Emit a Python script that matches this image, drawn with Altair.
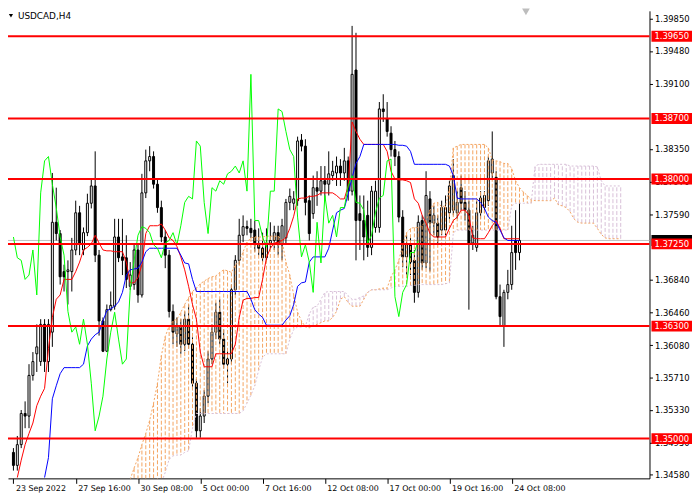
import altair as alt
import pandas as pd

SYMBOL = "USDCAD,H4"

# H4 candles (bar 0 = 23 Sep 2022 00:00)
BAR_OPEN = [
    1.3484, 1.3469, 1.3493, 1.3529, 1.3526, 1.3573, 1.3598, 1.3589, 1.3632, 1.3589,
    1.3623, 1.3750, 1.3737, 1.3693, 1.3693, 1.3693, 1.3718, 1.3761, 1.3718, 1.3738,
    1.3772, 1.3792, 1.3712, 1.3636, 1.3601, 1.3649, 1.3653, 1.3733, 1.3710, 1.3709,
    1.3676, 1.3678, 1.3718, 1.3666, 1.3784, 1.3821, 1.3826, 1.3794, 1.3767, 1.3733,
    1.3712, 1.3647, 1.3621, 1.3629, 1.3609, 1.3638, 1.3609, 1.3564, 1.3509, 1.3526,
    1.3549, 1.3592, 1.3623, 1.3646, 1.3615, 1.3586, 1.3592, 1.3672, 1.3706, 1.3735,
    1.3745, 1.3743, 1.3741, 1.3724, 1.3720, 1.3709, 1.3726, 1.3729, 1.3738, 1.3724,
    1.3732, 1.3773, 1.3772, 1.3775, 1.3845, 1.3838, 1.3775, 1.3760, 1.3790, 1.3786,
    1.3798, 1.3794, 1.3804, 1.3807, 1.3815, 1.3807, 1.3821, 1.3786, 1.3926, 1.3760,
    1.3752, 1.3758, 1.3721, 1.3744, 1.3744, 1.3881, 1.3870, 1.3853, 1.3834, 1.3826,
    1.3756, 1.3710, 1.3724, 1.3706, 1.3669, 1.3752, 1.3703, 1.3777, 1.3749, 1.3749,
    1.3741, 1.3741, 1.3761, 1.3764, 1.3761, 1.3790, 1.3773, 1.3764, 1.3726, 1.3721,
    1.3761, 1.3767, 1.3775, 1.3807, 1.3802, 1.3664, 1.3630, 1.3669, 1.3678, 1.3729,
    1.3715,
]
BAR_HIGH = [
    1.3489, 1.3503, 1.3533, 1.3543, 1.3586, 1.3600, 1.3632, 1.3638, 1.3638, 1.3638,
    1.3807, 1.3790, 1.3741, 1.3701, 1.3706, 1.3732, 1.3775, 1.3769, 1.3744, 1.3783,
    1.3800, 1.3832, 1.3718, 1.3640, 1.3655, 1.3670, 1.3754, 1.3754, 1.3754, 1.3735,
    1.3704, 1.3724, 1.3726, 1.3806, 1.3834, 1.3838, 1.3832, 1.3800, 1.3775, 1.3741,
    1.3718, 1.3655, 1.3640, 1.3638, 1.3647, 1.3655, 1.3617, 1.3569, 1.3535, 1.3556,
    1.3601, 1.3632, 1.3657, 1.3661, 1.3626, 1.3601, 1.3678, 1.3712, 1.3754, 1.3758,
    1.3752, 1.3754, 1.3752, 1.3743, 1.3738, 1.3743, 1.3750, 1.3746, 1.3746, 1.3754,
    1.3777, 1.3789, 1.3786, 1.3849, 1.3852, 1.3846, 1.3781, 1.3804, 1.3809, 1.3815,
    1.3815, 1.3832, 1.3821, 1.3826, 1.3823, 1.3836, 1.3826, 1.3977, 1.3969, 1.3781,
    1.3781, 1.3775, 1.3792, 1.3798, 1.3889, 1.3898, 1.3889, 1.3861, 1.3844, 1.3832,
    1.3764, 1.3735, 1.3732, 1.3718, 1.3758, 1.3758, 1.3809, 1.3786, 1.3769, 1.3758,
    1.3775, 1.3781, 1.3798, 1.3823, 1.3786, 1.3804, 1.3786, 1.3775, 1.3746, 1.3775,
    1.3786, 1.3786, 1.3826, 1.3855, 1.3809, 1.3678, 1.3672, 1.3695, 1.3746, 1.3764,
    1.3775,
]
BAR_LOW = [
    1.3463, 1.3463, 1.3489, 1.3512, 1.3512, 1.3567, 1.3577, 1.3584, 1.3577, 1.3577,
    1.3606, 1.3729, 1.3678, 1.3670, 1.3655, 1.3670, 1.3712, 1.3712, 1.3712, 1.3734,
    1.3766, 1.3704, 1.3619, 1.3600, 1.3600, 1.3647, 1.3649, 1.3704, 1.3689, 1.3674,
    1.3672, 1.3672, 1.3657, 1.3663, 1.3778, 1.3809, 1.3789, 1.3761, 1.3727, 1.3697,
    1.3640, 1.3609, 1.3606, 1.3598, 1.3601, 1.3604, 1.3556, 1.3501, 1.3501, 1.3518,
    1.3541, 1.3586, 1.3615, 1.3609, 1.3581, 1.3564, 1.3586, 1.3666, 1.3701, 1.3727,
    1.3735, 1.3732, 1.3716, 1.3712, 1.3704, 1.3704, 1.3720, 1.3718, 1.3712, 1.3706,
    1.3724, 1.3764, 1.3764, 1.3769, 1.3832, 1.3758, 1.3729, 1.3754, 1.3769, 1.3781,
    1.3775, 1.3781, 1.3798, 1.3792, 1.3792, 1.3798, 1.3775, 1.3781, 1.3706, 1.3718,
    1.3706, 1.3710, 1.3712, 1.3738, 1.3738, 1.3866, 1.3849, 1.3826, 1.3815, 1.3750,
    1.3698, 1.3689, 1.3689, 1.3657, 1.3663, 1.3695, 1.3697, 1.3693, 1.3735, 1.3724,
    1.3735, 1.3735, 1.3754, 1.3758, 1.3754, 1.3764, 1.3752, 1.3649, 1.3718, 1.3716,
    1.3754, 1.3761, 1.3769, 1.3800, 1.3661, 1.3629, 1.3606, 1.3661, 1.3672, 1.3695,
    1.3706,
]
BAR_CLOSE = [
    1.3469, 1.3493, 1.3529, 1.3526, 1.3573, 1.3589, 1.3606, 1.3632, 1.3589, 1.3632,
    1.3750, 1.3737, 1.3687, 1.3687, 1.3695, 1.3718, 1.3761, 1.3726, 1.3738, 1.3772,
    1.3792, 1.3712, 1.3636, 1.3601, 1.3649, 1.3654, 1.3733, 1.3709, 1.3706, 1.3684,
    1.3689, 1.3718, 1.3666, 1.3784, 1.3821, 1.3826, 1.3794, 1.3767, 1.3733, 1.3712,
    1.3647, 1.3623, 1.3629, 1.3609, 1.3638, 1.3609, 1.3564, 1.3509, 1.3526, 1.3549,
    1.3592, 1.3623, 1.3646, 1.3615, 1.3586, 1.3592, 1.3672, 1.3706, 1.3735, 1.3745,
    1.3743, 1.3738, 1.3724, 1.3720, 1.3709, 1.3726, 1.3729, 1.3738, 1.3724, 1.3746,
    1.3773, 1.3780, 1.3777, 1.3844, 1.3838, 1.3773, 1.3737, 1.3790, 1.3786, 1.3798,
    1.3794, 1.3806, 1.3809, 1.3815, 1.3807, 1.3821, 1.3786, 1.3921, 1.3752, 1.3752,
    1.3733, 1.3721, 1.3786, 1.3786, 1.3881, 1.3878, 1.3855, 1.3834, 1.3826, 1.3756,
    1.3710, 1.3724, 1.3704, 1.3669, 1.3750, 1.3703, 1.3781, 1.3749, 1.3758, 1.3733,
    1.3767, 1.3767, 1.3792, 1.3804, 1.3773, 1.3772, 1.3764, 1.3726, 1.3735, 1.3761,
    1.3778, 1.3781, 1.3821, 1.3823, 1.3664, 1.3641, 1.3669, 1.3678, 1.3715, 1.3715,
    1.3729,
]

# Ichimoku lines as drawn (None = still below the window)
TENKAN = [
    None, 1.3455, 1.3475, 1.3493, 1.3506, 1.3518, 1.3538, 1.3549, 1.3558, 1.3604,
    1.3640, 1.3661, 1.3666, 1.3684, 1.3684, 1.3684, 1.3693, 1.3704, 1.3718, 1.3721,
    1.3725, 1.3735, 1.3726, 1.3718, 1.3717, 1.3717, 1.3716, 1.3716, 1.3716, 1.3704,
    1.3680, 1.3680, 1.3686, 1.3701, 1.3737, 1.3746, 1.3746, 1.3746, 1.3748, 1.3741,
    1.3732, 1.3729, 1.3722, 1.3710, 1.3695, 1.3676, 1.3655, 1.3638, 1.3600, 1.3583,
    1.3583, 1.3583, 1.3598, 1.3598, 1.3598, 1.3598, 1.3598, 1.3609, 1.3640, 1.3660,
    1.3662, 1.3662, 1.3663, 1.3663, 1.3684, 1.3709, 1.3720, 1.3726, 1.3727, 1.3729,
    1.3732, 1.3743, 1.3757, 1.3777, 1.3778, 1.3778, 1.3780, 1.3780, 1.3781, 1.3784,
    1.3784, 1.3784, 1.3784, 1.3781, 1.3777, 1.3777, 1.3792, 1.3866, 1.3855, 1.3846,
    1.3840, 1.3840, 1.3840, 1.3840, 1.3840, 1.3840, 1.3832, 1.3809, 1.3800, 1.3799,
    1.3799, 1.3798, 1.3796, 1.3777, 1.3772, 1.3758, 1.3749, 1.3737, 1.3733, 1.3733,
    1.3733, 1.3733, 1.3743, 1.3752, 1.3756, 1.3764, 1.3764, 1.3758, 1.3732, 1.3731,
    1.3731, 1.3731, 1.3738, 1.3746, 1.3752, 1.3743, 1.3731, 1.3731, 1.3731, 1.3731,
    1.3731,
]
KIJUN = [None] * 8 + [
    1.3455, 1.3478,
    1.3546, 1.3561, 1.3575, 1.3582, 1.3582, 1.3582, 1.3582, 1.3582, 1.3586, 1.3607,
    1.3615, 1.3620, 1.3623, 1.3636, 1.3648, 1.3650, 1.3653, 1.3658, 1.3669, 1.3689,
    1.3695, 1.3696, 1.3697, 1.3704, 1.3716, 1.3720, 1.3720, 1.3720, 1.3720, 1.3720,
    1.3720, 1.3720, 1.3720, 1.3712, 1.3703, 1.3702, 1.3684, 1.3670, 1.3670, 1.3670,
    1.3670, 1.3670, 1.3670, 1.3670, 1.3670, 1.3670, 1.3670, 1.3670, 1.3670, 1.3670,
    1.3670, 1.3661, 1.3649, 1.3644, 1.3640, 1.3631, 1.3631, 1.3631, 1.3631, 1.3631,
    1.3637, 1.3642, 1.3655, 1.3676, 1.3680, 1.3681, 1.3704, 1.3710, 1.3710, 1.3710,
    1.3710, 1.3720, 1.3741, 1.3761, 1.3764, 1.3766, 1.3783, 1.3802, 1.3818, 1.3826,
    1.3840, 1.3840, 1.3840, 1.3840, 1.3840, 1.3840, 1.3840, 1.3840, 1.3840, 1.3839,
    1.3839, 1.3838, 1.3832, 1.3817, 1.3817, 1.3817, 1.3817, 1.3817, 1.3817, 1.3817,
    1.3817, 1.3817, 1.3815, 1.3804, 1.3778, 1.3777, 1.3777, 1.3777, 1.3777, 1.3777,
    1.3773, 1.3766, 1.3756, 1.3752, 1.3750, 1.3741, 1.3732, 1.3729, 1.3729, 1.3729,
    1.3729,
]

# cloud, already shifted 26 bars forward; first value sits on bar 30
CLOUD_FIRST_BAR = 30
SPAN_A = [
    1.3453, 1.3466, 1.3478, 1.3493, 1.3506, 1.3521, 1.3541, 1.3564, 1.3596, 1.3618,
    1.3630, 1.3636, 1.3638, 1.3646, 1.3655, 1.3663, 1.3670, 1.3674, 1.3679, 1.3682,
    1.3685, 1.3687, 1.3688, 1.3692, 1.3695, 1.3694, 1.3692, 1.3701, 1.3704, 1.3716,
    1.3727, 1.3732, 1.3733, 1.3733, 1.3733, 1.3734, 1.3734, 1.3734, 1.3734, 1.3729,
    1.3704, 1.3689, 1.3666, 1.3646, 1.3636, 1.3629, 1.3628, 1.3630, 1.3632, 1.3634,
    1.3636, 1.3636, 1.3640, 1.3647, 1.3661, 1.3664, 1.3657, 1.3653, 1.3653, 1.3653,
    1.3661, 1.3669, 1.3672, 1.3672, 1.3673, 1.3674, 1.3674, 1.3687, 1.3695, 1.3706,
    1.3724, 1.3738, 1.3743, 1.3744, 1.3744, 1.3746, 1.3752, 1.3764, 1.3772, 1.3773,
    1.3768, 1.3769, 1.3788, 1.3836, 1.3838, 1.3840, 1.3840, 1.3840, 1.3840, 1.3840,
    1.3840, 1.3840, 1.3836, 1.3822, 1.3821, 1.3820, 1.3818, 1.3818, 1.3812, 1.3798,
    1.3790, 1.3785, 1.3781, 1.3776, 1.3775, 1.3775, 1.3775, 1.3775, 1.3775, 1.3778,
    1.3770, 1.3769, 1.3767, 1.3762, 1.3754, 1.3750, 1.3749, 1.3749, 1.3749, 1.3749,
    1.3743, 1.3736, 1.3732, 1.3731, 1.3731, 1.3731, 1.3731,
]
SPAN_B = [
    1.3432, 1.3432, 1.3432, 1.3432, 1.3432, 1.3432, 1.3438, 1.3444, 1.3449, 1.3461,
    1.3476, 1.3480, 1.3481, 1.3481, 1.3484, 1.3486, 1.3512, 1.3529, 1.3529, 1.3529,
    1.3529, 1.3529, 1.3529, 1.3529, 1.3529, 1.3529, 1.3529, 1.3529, 1.3529, 1.3532,
    1.3541, 1.3550, 1.3561, 1.3579, 1.3594, 1.3598, 1.3598, 1.3598, 1.3598, 1.3598,
    1.3598, 1.3615, 1.3626, 1.3629, 1.3629, 1.3630, 1.3644, 1.3652, 1.3653, 1.3661,
    1.3669, 1.3670, 1.3670, 1.3670, 1.3670, 1.3670, 1.3665, 1.3661, 1.3661, 1.3663,
    1.3665, 1.3669, 1.3672, 1.3672, 1.3672, 1.3672, 1.3672, 1.3674, 1.3676, 1.3676,
    1.3676, 1.3676, 1.3677, 1.3677, 1.3678, 1.3678, 1.3678, 1.3678, 1.3678, 1.3678,
    1.3678, 1.3679, 1.3680, 1.3738, 1.3741, 1.3741, 1.3741, 1.3741, 1.3741, 1.3741,
    1.3741, 1.3741, 1.3741, 1.3741, 1.3741, 1.3741, 1.3741, 1.3741, 1.3769, 1.3772,
    1.3772, 1.3772, 1.3772, 1.3772, 1.3815, 1.3817, 1.3817, 1.3817, 1.3817, 1.3817,
    1.3817, 1.3817, 1.3817, 1.3815, 1.3815, 1.3815, 1.3815, 1.3815, 1.3815, 1.3815,
    1.3814, 1.3798, 1.3792, 1.3792, 1.3792, 1.3792, 1.3792,
]
CHIKOU_SHIFT = 26

LEVELS = [1.3965, 1.3870, 1.3800, 1.3725, 1.3630, 1.3500]
# 1.38720 and 1.37220 sit fully under the red tags in the terminal, so they're left out
PRICE_TICKS = [1.3985, 1.3948, 1.3910, 1.3835, 1.3797, 1.3759,
               1.3684, 1.3646, 1.3608, 1.3571, 1.3533, 1.3495, 1.3458]
TIME_LABELS = ["23 Sep 2022", "27 Sep 16:00", "30 Sep 08:00", "5 Oct 00:00", "7 Oct 16:00",
               "12 Oct 08:00", "17 Oct 00:00", "19 Oct 16:00", "24 Oct 08:00"]
LABEL_EVERY = 16  # bars between time labels

FONT = "DejaVu Sans"
W, H = 649, 473  # 4px per bar, like the terminal

xs = alt.Scale(domain=[-0.125, 162.125], nice=False, zero=False)
ys = alt.Scale(domain=[1.34540, 1.39944], nice=False, zero=False)

label_expr = "[" + ",".join(f"'{t}'" for t in TIME_LABELS) + f"][round(datum.value / {LABEL_EVERY})]"
x_axis = alt.Axis(values=[k * LABEL_EVERY for k in range(len(TIME_LABELS))], labelExpr=label_expr,
                  title=None, grid=False, domainColor="black", tickColor="black", tickSize=5,
                  labelAlign="left", labelBaseline="top", labelPadding=1, labelOffset=2,
                  labelFont=FONT, labelFontSize=8, labelColor="black",
                  labelFlush=False, labelOverlap=False)
y_axis = alt.Axis(orient="right", values=PRICE_TICKS, format=".5f", title=None, grid=False,
                  domainColor="black", tickColor="black", tickSize=3, labelPadding=2,
                  labelFont=FONT, labelFontSize=8.5, labelColor="black",
                  labelFlush=False, labelOverlap=False)


def X(field):
    return alt.X(f"{field}:Q", scale=xs, axis=x_axis)


def Y(field):
    return alt.Y(f"{field}:Q", scale=ys, axis=y_axis)


n = len(BAR_CLOSE)
candles = pd.DataFrame({"bar": range(n), "open": BAR_OPEN, "high": BAR_HIGH,
                        "low": BAR_LOW, "close": BAR_CLOSE})
candles["body"] = ["white" if c >= o else "black" for o, c in zip(BAR_OPEN, BAR_CLOSE)]

lines = pd.DataFrame({"bar": range(n), "tenkan": TENKAN, "kijun": KIJUN})
chikou_df = pd.DataFrame({"bar": [i - CHIKOU_SHIFT for i in range(CHIKOU_SHIFT, n)],
                          "chikou": BAR_CLOSE[CHIKOU_SHIFT:]})

cloud = pd.DataFrame({"bar": range(CLOUD_FIRST_BAR, CLOUD_FIRST_BAR + len(SPAN_A)),
                      "a": SPAN_A, "b": SPAN_B})
cloud["tint"] = ["#F4A460" if a >= b else "#D8BFD8" for a, b in zip(SPAN_A, SPAN_B)]

levels = pd.DataFrame({"price": LEVELS, "text": [f"{p:.5f}" for p in LEVELS]})
last = pd.DataFrame({"price": [BAR_CLOSE[-1]]})
title_df = pd.DataFrame({"text": [SYMBOL]})

last_line = alt.Chart(last).mark_rule(color="#C0C0C0", strokeWidth=1).encode(y=Y("price"))
wicks = alt.Chart(candles).mark_rule(color="black", strokeWidth=1).encode(
    x=X("bar"), y=Y("low"), y2="high:Q")
bodies = alt.Chart(candles).mark_bar(size=2, stroke="black", strokeWidth=1, orient="vertical").encode(
    x=X("bar"), y=Y("open"), y2="close:Q", fill=alt.Fill("body:N", scale=None))

hatch = alt.Chart(cloud).mark_rule(strokeWidth=1, strokeDash=[4, 2], clip=True).encode(
    x=X("bar"), y=Y("a"), y2="b:Q", color=alt.Color("tint:N", scale=None))
span_a = alt.Chart(cloud).mark_line(color="#F4A460", strokeWidth=1, strokeDash=[2, 2], clip=True).encode(
    x=X("bar"), y=Y("a"))
span_b = alt.Chart(cloud).mark_line(color="#D8BFD8", strokeWidth=1, strokeDash=[2, 2], clip=True).encode(
    x=X("bar"), y=Y("b"))

tenkan = alt.Chart(lines.dropna(subset=["tenkan"])).mark_line(color="#FF0000", strokeWidth=1).encode(
    x=X("bar"), y=Y("tenkan"))
kijun = alt.Chart(lines.dropna(subset=["kijun"])).mark_line(color="#0000FF", strokeWidth=1).encode(
    x=X("bar"), y=Y("kijun"))
chikou = alt.Chart(chikou_df).mark_line(color="#00FF00", strokeWidth=1).encode(
    x=X("bar"), y=Y("chikou"))

level_lines = alt.Chart(levels).mark_rule(color="#FF0000", strokeWidth=2).encode(y=Y("price"))

# price tags sitting on the right axis; the black bid tag peeks out above the 1.37250 one
last_tag = alt.Chart(last).mark_rule(color="black", strokeWidth=11).encode(
    x=alt.value(651), x2=alt.value(692), y=Y("price"))
level_tags = alt.Chart(levels).mark_rule(color="#FF0000", strokeWidth=11).encode(
    x=alt.value(651), x2=alt.value(692), y=Y("price"))
level_text = alt.Chart(levels).mark_text(color="white", align="left", baseline="middle",
                                         font=FONT, fontSize=8.5).encode(
    x=alt.value(654), y=Y("price"), text="text:N")

arrow = alt.Chart(title_df).mark_point(shape="triangle-down", filled=True, color="black",
                                       size=18, opacity=1).encode(x=alt.value(3), y=alt.value(5))
title = alt.Chart(title_df).mark_text(align="left", baseline="middle", font=FONT, fontSize=9,
                                      color="black").encode(x=alt.value(10), y=alt.value(5), text="text:N")
shift_mark = alt.Chart(title_df).mark_point(shape="triangle-down", filled=True, color="#BDBDBD",
                                            size=60, opacity=1).encode(x=alt.value(524), y=alt.value(1))

chart = alt.layer(
    last_line, wicks, bodies, hatch, span_a, span_b, tenkan, kijun, chikou,
    level_lines, last_tag, level_tags, level_text, arrow, title, shift_mark,
).properties(
    width=W, height=H,
    padding={"left": 0, "top": 0, "right": 43, "bottom": 19},
    autosize=alt.AutoSizeParams(type="none"),
    background="white",
).configure_view(strokeWidth=0)

chart.save("out.html", embed_options={"renderer": "svg", "actions": False})
